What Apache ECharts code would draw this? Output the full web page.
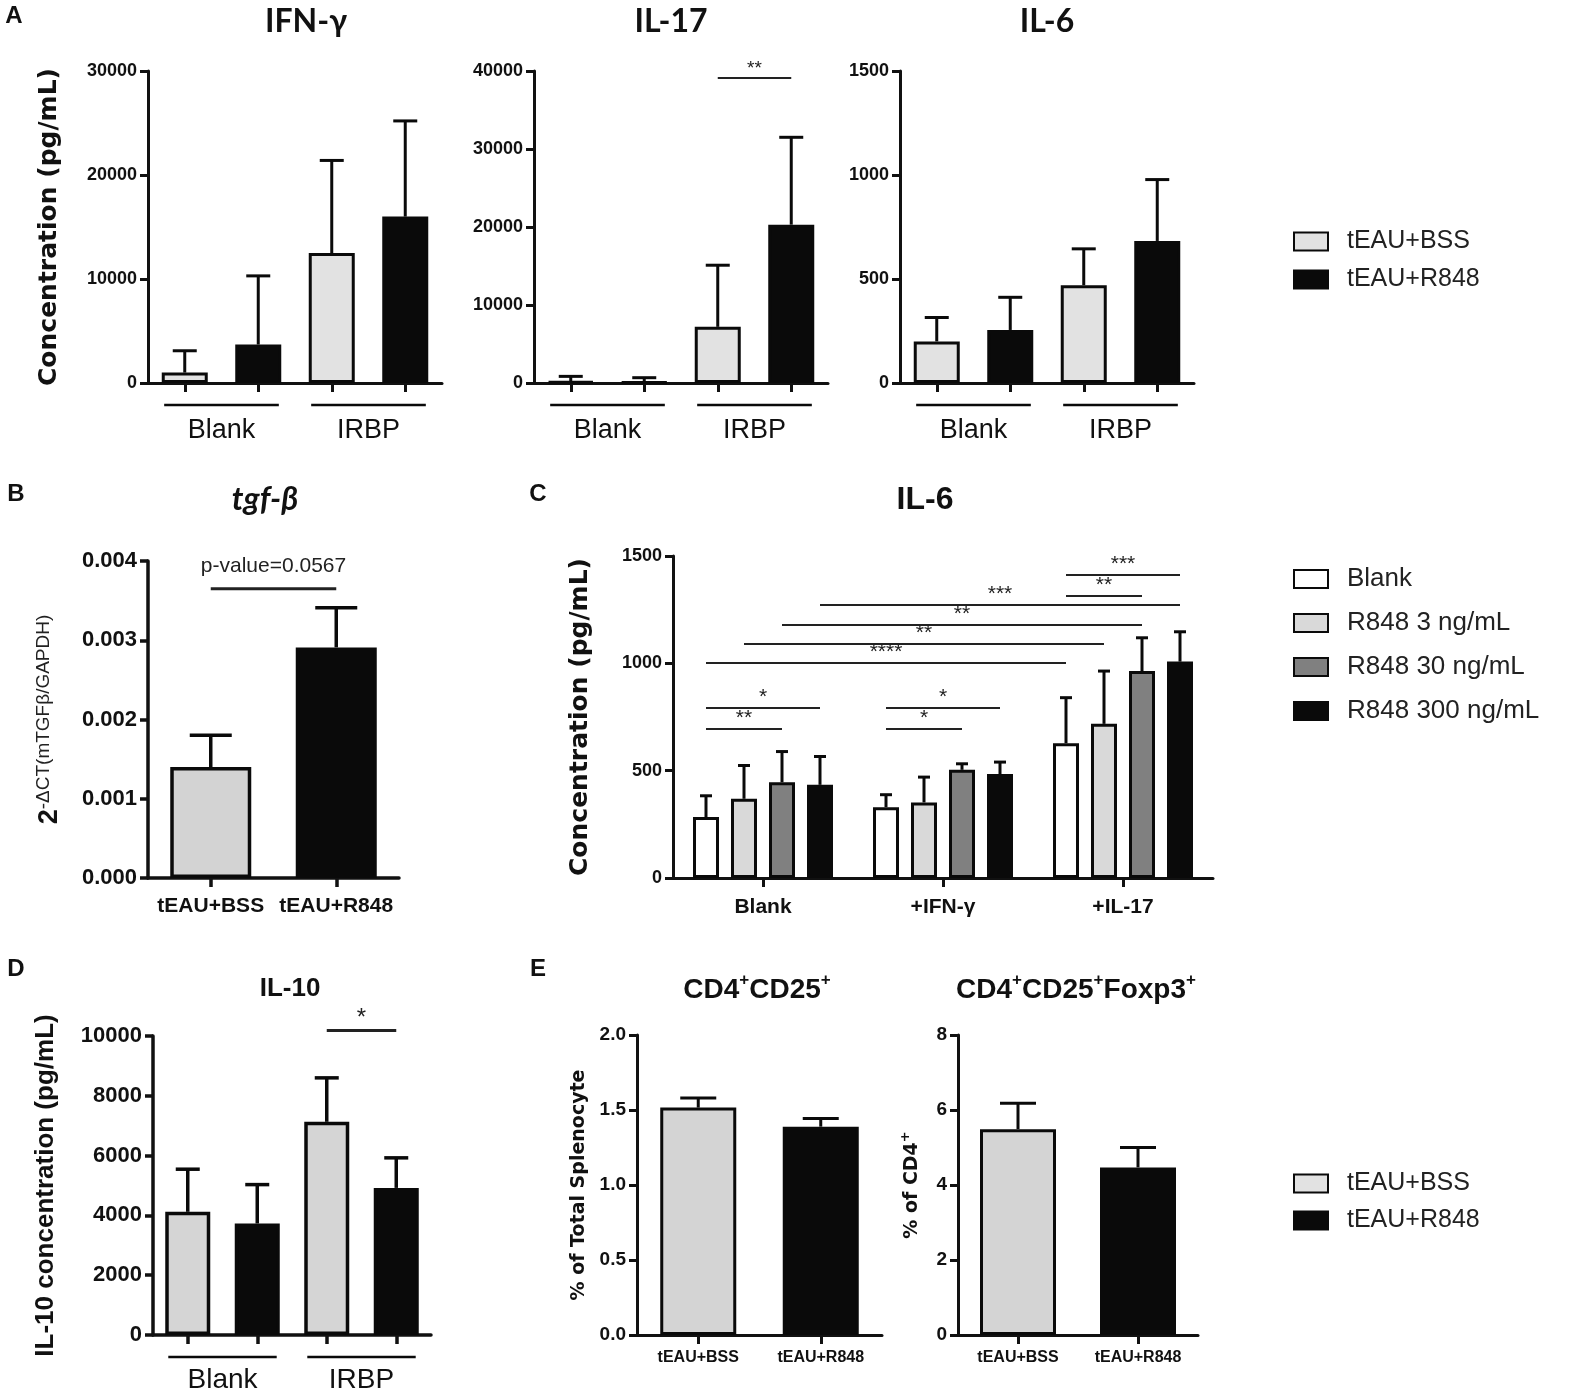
<!DOCTYPE html>
<html>
<head>
<meta charset="utf-8">
<script src="https://cdn.jsdelivr.net/npm/echarts@6.0.0/dist/echarts.min.js"></script>
<style>
  html, body { margin: 0; padding: 0; background: #fff; }
  #main { width: 1571px; height: 1389px; }
</style>
</head>
<body>
<div id="main"></div>
<script>
// ---------- data ----------
var groupCats = ['Blank', 'IRBP'];
var treatCats = ['tEAU+BSS', 'tEAU+R848'];
var stimCats = ['Blank', '+IFN-γ', '+IL-17'];
var doseNames = ['Blank', 'R848 3 ng/mL', 'R848 30 ng/mL', 'R848 300 ng/mL'];

// A  IFN-γ
var ifnBss = [1000, 12500], ifnBssSd = [2100, 8900];
var ifnR848 = [3700, 16000], ifnR848Sd = [6600, 9200];
// A  IL-17
var il17Bss = [200, 7200], il17BssSd = [650, 7900];
var il17R848 = [100, 20300], il17R848Sd = [580, 11200];
// A  IL-6
var il6Bss = [200, 470], il6BssSd = [115, 175];
var il6R848 = [255, 683], il6R848Sd = [157, 295];
// B  tgf-β
var tgfMean = [0.00140, 0.00291], tgfSd = [0.00040, 0.00050];
// C  IL-6 by dose (rows: dose, cols: stimulus)
var il6Dose = [[284, 330, 628], [369, 352, 718], [446, 504, 964], [434, 484, 1008]];
var il6DoseSd = [[99, 58, 212], [155, 118, 246], [143, 28, 155], [132, 56, 139]];
// D  IL-10
var il10Bss = [4120, 7130], il10BssSd = [1425, 1470];
var il10R848 = [3730, 4920], il10R848Sd = [1300, 1005];
// E
var cd25Mean = [1.516, 1.389], cd25Sd = [0.064, 0.055];
var foxp3Mean = [5.49, 4.47], foxp3Sd = [0.69, 0.53];

// significance: [cat1, ser1, cat2, ser2, y, text]
var il17Sig = [[1, 0, 1, 1, 39100, '**']];
var tgfSig = [[0, 0, 1, 0, 0.00365, 'p-value=0.0567']];
var il6DoseSig = [
  [0, 0, 0, 2, 694, '**'], [0, 0, 0, 3, 792, '*'],
  [1, 0, 1, 2, 694, '*'], [1, 0, 1, 3, 792, '*'],
  [0, 0, 2, 0, 1001, '****'], [0, 1, 2, 1, 1090, '**'],
  [0, 2, 2, 2, 1178, '**'], [0, 3, 2, 3, 1272, '***'],
  [2, 0, 2, 2, 1314, '**'], [2, 0, 2, 3, 1412, '***']
];
var il10Sig = [[1, 0, 1, 1, 10180, '*']];

// ---------- styles ----------
var ARIAL = "'Liberation Sans', Arial, sans-serif";
var WIDE = "'DejaVu Sans', Verdana, sans-serif";
var INK = '#111';
var BLACK = '#0a0a0a';

var option = { animation: false, grid: [], xAxis: [], yAxis: [], series: [], legend: [], graphic: [] };

function addPanel(p) {
  var gi = option.grid.length;
  option.grid.push({ left: p.left, top: p.top, width: p.width, height: p.height, outerBoundsMode: 'none', containLabel: false });
  var nCat = p.cats.length, nSer = p.series.length;
  var catW = p.width / nCat;
  var step = p.overlap ? 0 : (p.step || catW / nSer);
  var barGap = p.overlap ? '-100%' : ((step - p.barWidth) / p.barWidth * 100) + '%';
  var ls = { color: INK, width: p.lw };

  var xi = option.xAxis.length;
  option.xAxis.push({
    gridIndex: gi, type: 'category', data: p.cats,
    axisLine: { lineStyle: ls },
    axisTick: { show: !p.groupLine, alignWithLabel: true, length: 9, lineStyle: ls },
    axisLabel: Object.assign({ color: INK, margin: p.xMargin, interval: 0 }, p.xFont)
  });
  if (p.groupLine) {
    // one tick under every bar
    var sub = [];
    for (var i = 0; i < nCat * nSer; i++) sub.push('s' + i);
    option.xAxis.push({
      gridIndex: gi, type: 'category', data: sub, position: 'bottom',
      axisLine: { show: false },
      axisTick: { show: true, alignWithLabel: true, length: 9, lineStyle: ls },
      axisLabel: { show: false }
    });
  }
  var yi = option.yAxis.length;
  option.yAxis.push({
    gridIndex: gi, type: 'value', min: 0, max: p.max, interval: p.interval,
    name: p.yName, nameLocation: 'middle', nameGap: p.nameGap, nameTextStyle: p.nameStyle,
    nameMoveOverlap: false,
    splitLine: { show: false },
    axisLine: { show: true, lineStyle: ls },
    axisTick: { show: true, length: 8, lineStyle: ls },
    axisLabel: Object.assign({ color: INK, margin: 11, formatter: p.yFmt || function (v) { return String(v); } }, p.yFont)
  });

  var errData = [];
  p.series.forEach(function (s, k) {
    var data = p.overlap ? s.mean.map(function (v, i) { return i === k ? v : '-'; }) : s.mean;
    option.series.push({
      type: 'bar', name: s.name, xAxisIndex: xi, yAxisIndex: yi, data: data,
      barWidth: p.barWidth, barGap: barGap, silent: true,
      itemStyle: { color: s.color, borderColor: BLACK, borderWidth: p.lw }
    });
    s.mean.forEach(function (v, i) {
      if (p.overlap && i !== k) return;
      errData.push([i, k, v, s.sd[i]]);
    });
  });

  function xPix(api, cat, ser) {
    return api.coord([cat, 0])[0] + (p.overlap ? 0 : (ser - (nSer - 1) / 2) * step);
  }

  // error bars (mean + SD)
  option.series.push({
    type: 'custom', xAxisIndex: xi, yAxisIndex: yi, data: errData, silent: true, z: 3,
    encode: { x: 0, y: 2 },
    renderItem: function (params, api) {
      var x = xPix(api, api.value(0), api.value(1));
      var m = api.value(2), sd = api.value(3);
      var y0 = api.coord([api.value(0), m])[1];
      var y1 = api.coord([api.value(0), m + sd])[1];
      var st = { stroke: BLACK, lineWidth: p.lw };
      return { type: 'group', children: [
        { type: 'line', shape: { x1: x, y1: y0, x2: x, y2: y1 }, style: st },
        { type: 'line', shape: { x1: x - p.cap / 2, y1: y1, x2: x + p.cap / 2, y2: y1 }, style: st }
      ] };
    }
  });

  if (p.groupLine) {
    option.series.push({
      type: 'custom', xAxisIndex: xi, yAxisIndex: yi, silent: true,
      data: p.cats.map(function (c, i) { return [i, 0]; }),
      encode: { x: 0, y: 1 },
      renderItem: function (params, api) {
        var pt = api.coord([api.value(0), 0]);
        var half = catW * 0.39;
        return { type: 'line', shape: { x1: pt[0] - half, y1: pt[1] + 22, x2: pt[0] + half, y2: pt[1] + 22 },
          style: { stroke: BLACK, lineWidth: 2.5 } };
      }
    });
  }

  if (p.sig) {
    option.series.push({
      type: 'custom', xAxisIndex: xi, yAxisIndex: yi, silent: true, z: 4,
      data: p.sig.map(function (s) { return s.slice(0, 5); }),
      encode: { x: 0, y: 4 },
      renderItem: function (params, api) {
        var x1 = xPix(api, api.value(0), api.value(1));
        var x2 = xPix(api, api.value(2), api.value(3));
        var y = api.coord([0, api.value(4)])[1];
        return { type: 'group', children: [
          { type: 'line', shape: { x1: x1, y1: y, x2: x2, y2: y }, style: { stroke: '#222', lineWidth: p.sigLw || 2 } },
          { type: 'text', x: (x1 + x2) / 2, y: y - p.sigGap,
            style: { text: p.sig[params.dataIndex][5], font: p.sigFont, fill: '#222', align: 'center', verticalAlign: 'bottom' } }
        ] };
      }
    });
  }
}

function treat(meanB, sdB, meanR, sdR, light) {
  return [
    { name: 'tEAU+BSS', color: light, mean: meanB, sd: sdB },
    { name: 'tEAU+R848', color: BLACK, mean: meanR, sd: sdR }
  ];
}

var concName = { fontFamily: WIDE, fontWeight: 'bold', fontSize: 25, color: INK };
var aBase = {
  top: 71, width: 294, height: 312, barWidth: 46, cap: 24, lw: 3, groupLine: true, xMargin: 34,
  xFont: { fontFamily: ARIAL, fontSize: 27 },
  yFont: { fontFamily: ARIAL, fontWeight: 'bold', fontSize: 18 },
  sigGap: 0, sigFont: '19px ' + ARIAL
};

// ---------- panel A ----------
addPanel(Object.assign({}, aBase, {
  left: 148, cats: groupCats, max: 30000, interval: 10000,
  yName: 'Concentration (pg/mL)', nameGap: 86, nameStyle: concName,
  series: treat(ifnBss, ifnBssSd, ifnR848, ifnR848Sd, '#e2e2e2')
}));
addPanel(Object.assign({}, aBase, {
  left: 534, cats: groupCats, max: 40000, interval: 10000, sig: il17Sig,
  series: treat(il17Bss, il17BssSd, il17R848, il17R848Sd, '#e2e2e2')
}));
addPanel(Object.assign({}, aBase, {
  left: 900, cats: groupCats, max: 1500, interval: 500,
  series: treat(il6Bss, il6BssSd, il6R848, il6R848Sd, '#e2e2e2')
}));

// ---------- panel B ----------
addPanel({
  left: 148, top: 561, width: 251, height: 317, cats: treatCats, overlap: true,
  max: 0.004, interval: 0.001, barWidth: 81, cap: 42, lw: 3.5, xMargin: 18,
  xFont: { fontFamily: ARIAL, fontWeight: 'bold', fontSize: 21 },
  yFont: { fontFamily: ARIAL, fontWeight: 'bold', fontSize: 22 },
  yFmt: function (v) { return v.toFixed(3); },
  yName: '{b|2}{s|-ΔCT(mTGFβ/GAPDH)}', nameGap: 82,
  nameStyle: { rich: {
    b: { fontFamily: ARIAL, fontWeight: 'bold', fontSize: 27, color: INK, lineHeight: 32 },
    s: { fontFamily: ARIAL, fontSize: 19, color: '#222', verticalAlign: 'top', lineHeight: 32 }
  } },
  sig: tgfSig, sigGap: 12, sigFont: '21px ' + ARIAL, sigLw: 3,
  series: treat(tgfMean, tgfSd, tgfMean, tgfSd, '#d3d3d3')
});

// ---------- panel C ----------
var doseColors = ['#ffffff', '#d9d9d9', '#808080', BLACK];
addPanel({
  left: 673, top: 556, width: 540, height: 322, cats: stimCats, step: 38,
  max: 1500, interval: 500, barWidth: 26, cap: 12, lw: 3, xMargin: 19,
  xFont: { fontFamily: ARIAL, fontWeight: 'bold', fontSize: 21 },
  yFont: { fontFamily: ARIAL, fontWeight: 'bold', fontSize: 18 },
  yName: 'Concentration (pg/mL)', nameGap: 80, nameStyle: concName,
  sig: il6DoseSig, sigGap: 0, sigFont: '21px ' + ARIAL,
  series: doseNames.map(function (n, k) {
    return { name: n, color: doseColors[k], mean: il6Dose[k], sd: il6DoseSd[k] };
  })
});

// ---------- panel D ----------
addPanel({
  left: 153, top: 1036, width: 278, height: 299, cats: groupCats, groupLine: true,
  max: 10000, interval: 2000, barWidth: 45, cap: 24, lw: 3.5, xMargin: 31,
  xFont: { fontFamily: ARIAL, fontSize: 28 },
  yFont: { fontFamily: ARIAL, fontWeight: 'bold', fontSize: 22 },
  yName: 'IL-10 concentration (pg/mL)', nameGap: 94,
  nameStyle: { fontFamily: ARIAL, fontWeight: 'bold', fontSize: 26, color: INK },
  sig: il10Sig, sigGap: 0, sigFont: '24px ' + ARIAL, sigLw: 3,
  series: treat(il10Bss, il10BssSd, il10R848, il10R848Sd, '#d5d5d5')
});

// ---------- panel E ----------
var eBase = {
  top: 1035, height: 300, cats: treatCats, overlap: true, barWidth: 76, cap: 36, lw: 3, xMargin: 15,
  xFont: { fontFamily: ARIAL, fontWeight: 'bold', fontSize: 16 },
  yFont: { fontFamily: ARIAL, fontWeight: 'bold', fontSize: 19 }
};
addPanel(Object.assign({}, eBase, {
  left: 637, width: 245, max: 2, interval: 0.5,
  yFmt: function (v) { return v.toFixed(1); },
  yName: '% of Total Splenocyte', nameGap: 48,
  nameStyle: { fontFamily: WIDE, fontWeight: 'bold', fontSize: 19, color: INK },
  series: treat(cd25Mean, cd25Sd, cd25Mean, cd25Sd, '#d4d4d4')
}));
addPanel(Object.assign({}, eBase, {
  left: 958, width: 240, max: 8, interval: 2,
  yName: '{n|% of CD4}{s|+}', nameGap: 33,
  nameStyle: { rich: {
    n: { fontFamily: WIDE, fontWeight: 'bold', fontSize: 19, color: INK, lineHeight: 26 },
    s: { fontFamily: WIDE, fontWeight: 'bold', fontSize: 13, color: INK, verticalAlign: 'top', lineHeight: 26 }
  } },
  series: treat(foxp3Mean, foxp3Sd, foxp3Mean, foxp3Sd, '#d4d4d4')
}));

// ---------- legends ----------
function legendAt(top, names, gap, fontSize) {
  option.legend.push({
    left: 1288, top: top, orient: 'vertical', data: names, selectedMode: false,
    icon: 'rect', itemWidth: 34, itemHeight: 18, itemGap: gap,
    textStyle: { fontFamily: ARIAL, fontSize: fontSize, color: '#222', lineHeight: 20, padding: [0, 0, 0, 14] }
  });
}
legendAt(224, treatCats, 13, 25);
legendAt(561, doseNames, 18, 26);
legendAt(1166, treatCats, 12, 25);

// ---------- titles and panel letters ----------
function label(x, y, text, font, rich) {
  var st = { text: text, font: font, fill: INK, align: 'center', verticalAlign: 'middle' };
  if (rich) st.rich = rich;
  option.graphic.push({ type: 'text', x: x, y: y, style: st });
}
var letterFont = 'bold 24px ' + ARIAL;
label(14, 16, 'A', letterFont);
label(16, 494, 'B', letterFont);
label(538, 494, 'C', letterFont);
label(16, 969, 'D', letterFont);
label(538, 969, 'E', letterFont);

label(306, 22, 'IFN-γ', 'bold 32px Lato, ' + ARIAL);
label(671, 22, 'IL-17', 'bold 32px Lato, ' + ARIAL);
label(1047, 22, 'IL-6', 'bold 32px Lato, ' + ARIAL);
label(265, 500, 'tgf-β', 'italic bold 32px Lato, ' + ARIAL);
label(925, 500, 'IL-6', 'bold 32px ' + ARIAL);
label(290, 989, 'IL-10', 'bold 26px ' + ARIAL);
var supRich = {
  n: { fontFamily: ARIAL, fontWeight: 'bold', fontSize: 28, lineHeight: 36, fill: INK },
  s: { fontFamily: ARIAL, fontWeight: 'bold', fontSize: 17, lineHeight: 36, verticalAlign: 'top', fill: INK }
};
label(757, 990, '{n|CD4}{s|+}{n|CD25}{s|+}', '', supRich);
label(1076, 990, '{n|CD4}{s|+}{n|CD25}{s|+}{n|Foxp3}{s|+}', '', supRich);

var myChart = echarts.init(document.getElementById('main'));
myChart.setOption(option);
</script>
</body>
</html>
